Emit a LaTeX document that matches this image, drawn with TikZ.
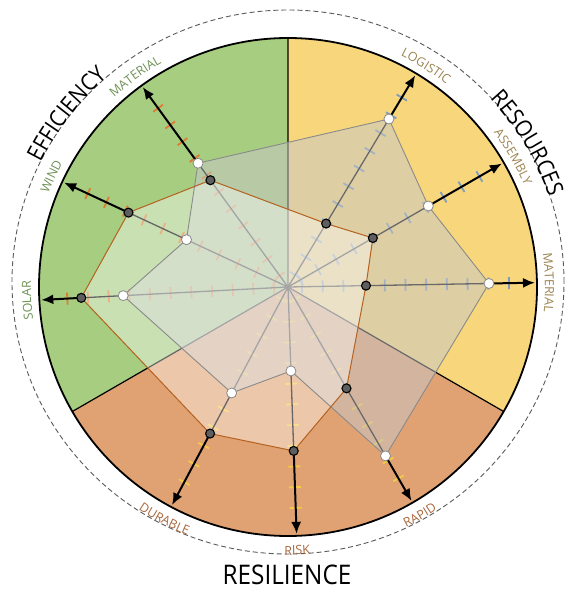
\documentclass[tikz,border=0pt]{standalone}
\usepackage{fontspec}
\setmainfont{Open Sans}
\newfontfamily\capsfont[FakeStretch=0.9]{Open Sans}
\usepackage{tikz}
\usetikzlibrary{arrows.meta,decorations.text}

\definecolor{effgreen}{HTML}{A6CD80}
\definecolor{resyellow}{HTML}{F8D67C}
\definecolor{resilorange}{HTML}{E0A272}
\definecolor{efftick}{HTML}{E07B33}
\definecolor{restick}{HTML}{7C9CC0}
\definecolor{resiltick}{HTML}{F3CB45}
\definecolor{efftext}{HTML}{6F9256}
\definecolor{restext}{HTML}{9C8350}
\definecolor{resiltext}{HTML}{A8683E}
\definecolor{polybrown}{HTML}{B5611F}
\definecolor{polygray}{HTML}{8A8A8A}
\definecolor{polyshade}{HTML}{C8C8C8}
\definecolor{dotgray}{HTML}{5E5E5E}

\begin{document}
\begin{tikzpicture}[x=1pt,y=1pt]
        \tikzstyle{every node}+=[inner sep=0pt]
        \tikzstyle{boundary}=[black,line width=1.2]
        \tikzstyle{spoke}=[black,line width=1.3]
        \tikzstyle{axisarrow}=[black,line width=2,-{Latex[length=12pt,width=10pt]}]
        \tikzstyle{tickmark}=[line width=1.8]
        \tikzstyle{whitedot}=[fill=white,draw=polygray,line width=0.8]
        \tikzstyle{darkdot}=[fill=dotgray,draw=black,line width=1.1]
        \tikzstyle{arclabel}=[decorate,decoration={text along path,text align=center}]
        \useasboundingbox (-288,-303) rectangle (279,287);
        \coordinate (o) at (0,0);
        \fill [effgreen] (o) -- (90:249) arc[start angle=90,end angle=210,radius=249] -- cycle;
        \fill [resilorange] (o) -- (210:249) arc[start angle=210,end angle=330,radius=249] -- cycle;
        \fill [resyellow] (o) -- (330:249) arc[start angle=330,end angle=450,radius=249] -- cycle;
        \draw [boundary] (o) -- (90:249) (o) -- (210:249) (o) -- (330:249);
        \draw [line width=1.8] (o) circle[radius=249];
        \draw [black!65,line width=0.9,dash pattern=on 5pt off 3pt] (0,5) ellipse[x radius=276,y radius=272];
        \coordinate (w-resmat) at (1:201);
        \coordinate (d-resmat) at (1:78);
        \coordinate (e-resmat) at (1:247);
        \coordinate (w-assembly) at (30:162);
        \coordinate (d-assembly) at (30:98);
        \coordinate (e-assembly) at (30:247);
        \coordinate (w-logistic) at (59:196);
        \coordinate (d-logistic) at (59:74);
        \coordinate (e-logistic) at (59:247);
        \coordinate (w-effmat) at (126:153);
        \coordinate (d-effmat) at (126:132);
        \coordinate (e-effmat) at (126:247);
        \coordinate (w-wind) at (155:112);
        \coordinate (d-wind) at (155:176);
        \coordinate (e-wind) at (155:247);
        \coordinate (w-solar) at (183:165);
        \coordinate (d-solar) at (183:207);
        \coordinate (e-solar) at (183:247);
        \coordinate (w-durable) at (242:120);
        \coordinate (d-durable) at (242:166);
        \coordinate (e-durable) at (242:247);
        \coordinate (w-risk) at (272:84);
        \coordinate (d-risk) at (272:164);
        \coordinate (e-risk) at (272:247);
        \coordinate (w-rapid) at (300:195);
        \coordinate (d-rapid) at (300:117);
        \coordinate (e-rapid) at (300:247);
        \foreach \a/\c in {1/restick,30/restick,59/restick,126/efftick,155/efftick,183/efftick,242/resiltick,272/resiltick,300/resiltick}
          \foreach \k in {0,...,10}
            \draw [tickmark,color=\c,rotate=\a] (14+20.7*\k,-6) -- (14+20.7*\k,6);
        \draw [spoke] (o) -- (w-resmat) (o) -- (w-assembly) (o) -- (w-logistic) (o) -- (w-effmat) (o) -- (d-wind) (o) -- (d-solar) (o) -- (d-durable) (o) -- (d-risk) (o) -- (w-rapid);
        \draw [axisarrow] (w-resmat) -- (e-resmat);
        \draw [axisarrow] (w-assembly) -- (e-assembly);
        \draw [axisarrow] (w-logistic) -- (e-logistic);
        \draw [axisarrow] (w-effmat) -- (e-effmat);
        \draw [axisarrow] (d-wind) -- (e-wind);
        \draw [axisarrow] (d-solar) -- (e-solar);
        \draw [axisarrow] (d-durable) -- (e-durable);
        \draw [axisarrow] (d-risk) -- (e-risk);
        \draw [axisarrow] (w-rapid) -- (e-rapid);
        \fill [polyshade,fill opacity=0.525] (w-resmat) -- (w-assembly) -- (w-logistic) -- (w-effmat) -- (w-wind) -- (w-solar) -- (w-durable) -- (w-risk) -- (w-rapid) -- cycle;
        \fill [white,fill opacity=0.4] (d-resmat) -- (d-assembly) -- (d-logistic) -- (d-effmat) -- (d-wind) -- (d-solar) -- (d-durable) -- (d-risk) -- (d-rapid) -- cycle;
        \draw [polygray,line width=0.9] (w-resmat) -- (w-assembly) -- (w-logistic) -- (w-effmat) -- (w-wind) -- (w-solar) -- (w-durable) -- (w-risk) -- (w-rapid) -- cycle;
        \draw [polybrown,line width=1] (d-resmat) -- (d-assembly) -- (d-logistic) -- (d-effmat) -- (d-wind) -- (d-solar) -- (d-durable) -- (d-risk) -- (d-rapid) -- cycle;
        \foreach \n in {resmat,assembly,logistic,effmat,wind,solar,durable,risk,rapid} {
          \draw [darkdot] (d-\n) circle[radius=4.5];
          \draw [whitedot] (w-\n) circle[radius=5];
        }
        \path [arclabel,decoration={text={|\fontsize{12.5}{14}\selectfont\color{efftext}|MATERIAL}}] (156:257) arc[start angle=156,end angle=96,radius=257];
        \path [arclabel,decoration={text={|\fontsize{12.5}{14}\selectfont\color{efftext}|WIND}}] (185:257) arc[start angle=185,end angle=125,radius=257];
        \path [arclabel,decoration={text={|\fontsize{12.5}{14}\selectfont\color{efftext}|SOLAR}}] (213:257) arc[start angle=213,end angle=153,radius=257];
        \path [arclabel,decoration={text={|\fontsize{12.5}{14}\selectfont\color{restext}|LOGISTIC}}] (88:257) arc[start angle=88,end angle=28,radius=257];
        \path [arclabel,decoration={text={|\fontsize{12.5}{14}\selectfont\color{restext}|ASSEMBLY}}] (60:257) arc[start angle=60,end angle=0,radius=257];
        \path [arclabel,decoration={text={|\fontsize{12.5}{14}\selectfont\color{restext}|MATERIAL}}] (31:257) arc[start angle=31,end angle=-29,radius=257];
        \path [arclabel,decoration={text={|\fontsize{12.5}{14}\selectfont\color{resiltext}|DURABLE}}] (212:268) arc[start angle=212,end angle=272,radius=268];
        \path [arclabel,decoration={text={|\fontsize{12.5}{14}\selectfont\color{resiltext}|RISK}}] (242:268) arc[start angle=242,end angle=302,radius=268];
        \path [arclabel,decoration={text={|\fontsize{12.5}{14}\selectfont\color{resiltext}|RAPID}}] (270:268) arc[start angle=270,end angle=330,radius=268];
        \path [arclabel,decoration={text={|\capsfont\fontsize{23}{26}\selectfont|EFFICIENCY}}] (172:277) arc[start angle=172,end angle=112,radius=277];
        \path [arclabel,decoration={text={|\capsfont\fontsize{23}{26}\selectfont|RESOURCES}}] (61:276) arc[start angle=61,end angle=1,radius=276];
        \node [font=\capsfont\fontsize{27}{30}\selectfont] (resil) at (-1,-288) {RESILIENCE};
\end{tikzpicture}
\end{document}
